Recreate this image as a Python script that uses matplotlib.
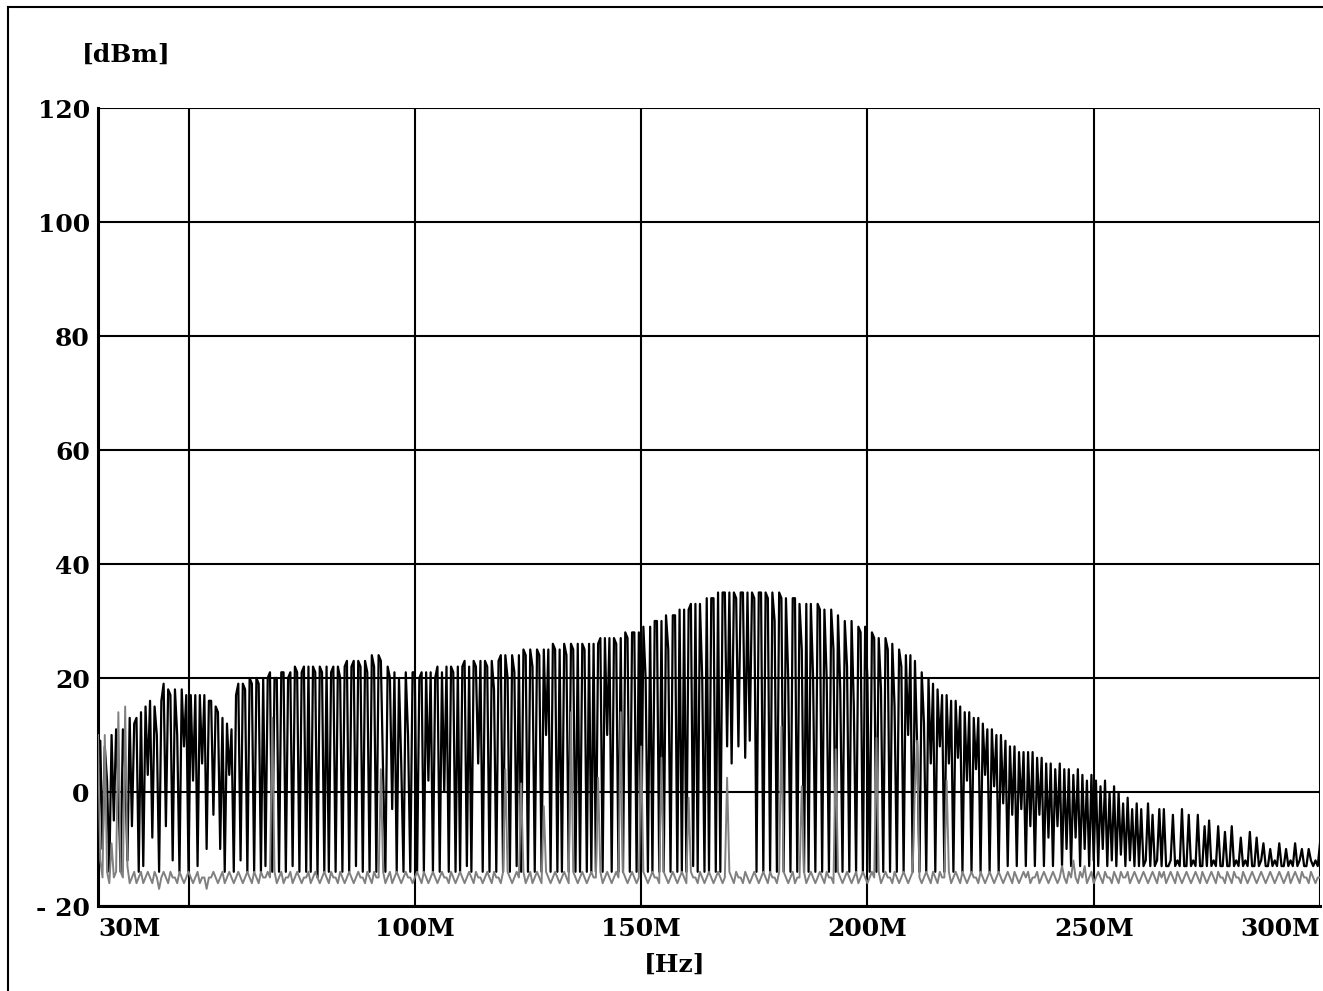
import numpy as np
import matplotlib
matplotlib.use("Agg")
import matplotlib.pyplot as plt
from matplotlib.lines import Line2D

# sweep 30M - 300M, 0.5 MHz per point
freq_start = 30
freq_stop = 300

# black trace [dBm], one row = 5 MHz
black_dbm = [
    -15, 9, -10, 8, 2, -14, 10, -5, 11, 0,
    -14, 11, 4, -12, 13, -6, 12, 13, -14, 14,
    -13, 15, 3, 16, -8, 15, 10, -14, 16, 19,
    -6, 18, 17, -12, 18, 10, -14, 18, 8, 17,
    -14, 17, 2, 17, -13, 17, 5, 17, -10, 16,
    16, -4, 15, 14, -10, 13, -14, 12, 3, 11,
    -14, 17, 19, -12, 19, 18, -14, 20, 19, -14,
    20, 19, -14, 20, -13, 20, 21, -14, 20, 20,
    -14, 21, 21, -14, 20, 21, -13, 22, 21, -14,
    21, 22, -14, 22, -14, 22, 21, -15, 22, 21,
    -14, 22, -14, 21, 22, -14, 22, 20, -14, 22,
    23, -14, 22, 23, -13, 23, 22, -14, 23, 21,
    -14, 24, 22, -14, 24, 23, 3, -14, 22, 20,
    -3, 21, -14, 20, 5, -14, 21, 10, -14, 21,
    21, -14, 20, 21, -14, 21, 2, 21, -14, 20,
    22, -14, 21, 0, 22, -14, 22, 21, -14, 22,
    -14, 22, 23, -13, 22, -14, 23, 22, 5, 23,
    -14, 23, 22, -14, 23, 18, -14, 23, 24, -14,
    24, 20, -14, 24, 21, -13, 24, -14, 25, 24,
    -14, 25, 22, -14, 25, 24, -14, 25, 10, 25,
    -14, 26, 25, -14, 25, -14, 26, 24, -14, 26,
    25, -14, 26, -14, 26, 25, -14, 26, -14, 26,
    -14, 26, 27, -14, 27, 10, 27, -14, 27, 26,
    -14, 27, -14, 28, 27, -14, 28, 28, -14, 28,
    -14, 29, 20, -14, 29, -14, 30, 30, -14, 30,
    -14, 31, 25, -14, 31, 31, -14, 32, -14, 32,
    -14, 32, 33, -13, 33, -14, 33, 20, -14, 34,
    -14, 34, 34, -14, 35, -14, 35, 35, 8, 35,
    5, 35, 34, 8, 35, 35, 6, 35, 9, 35,
    34, -14, 35, 35, -14, 35, 34, -14, 35, 30,
    -14, 35, 34, -14, 34, 20, -14, 34, 34, -14,
    33, 25, -14, 33, -14, 33, 20, -14, 33, 32,
    -14, 32, 20, -14, 32, 25, -14, 31, 18, -14,
    30, 22, -14, 30, 15, -14, 29, 28, -14, 29,
    20, -14, 28, 27, -14, 27, 18, -14, 27, 25,
    -14, 26, 15, -14, 25, 22, -14, 24, 10, 24,
    -14, 23, 8, -14, 21, 12, -14, 20, 5, 19,
    -14, 18, 8, 17, -14, 17, 5, 16, -14, 16,
    6, 15, -14, 14, 2, 14, -14, 13, 4, 13,
    -14, 12, 3, 11, -14, 11, 1, 10, -14, 10,
    -2, 9, -13, 8, -4, 8, -13, 7, -3, 7,
    -13, 7, -6, 7, -13, 6, -4, 6, -13, 5,
    -8, 5, -13, 4, -6, 5, -13, 4, -10, 4,
    -13, 3, -8, 4, -13, 3, -10, 2, -13, 3,
    -12, 2, -13, 1, -10, 2, -13, 0, -12, 1,
    -13, 0, -11, -2, -13, -1, -12, -3, -13, -2,
    -13, -3, -13, -12, -2, -13, -4, -13, -12, -3,
    -13, -3, -13, -13, -12, -4, -13, -12, -13, -3,
    -13, -13, -4, -13, -12, -13, -4, -13, -13, -6,
    -13, -5, -13, -12, -13, -6, -13, -13, -7, -13,
    -13, -6, -13, -12, -13, -8, -13, -12, -13, -7,
    -13, -13, -8, -13, -12, -9, -13, -13, -10, -13,
    -12, -13, -9, -13, -13, -10, -13, -12, -13, -9,
    -13, -12, -10, -13, -13, -10, -12, -13, -12, -13,
    -9,
]

# gray trace [dBm] (background), same sweep points
gray_dbm = [
    10, -12, -15, 10, -14, -16, -9, -15, -14, 14,
    -14, -15, 15, -13, -16, -15, -14, -16, -15, -14,
    -16, -15, -14, -15, -16, -14, -15, -17, -15, -14,
    -15, -16, -14, -15, -15, -16, -14, -15, -16, -15,
    -14, -15, -16, -15, -14, -16, -15, -15, -17, -15,
    -15, -14, -15, -16, -15, -14, -16, -15, -14, -15,
    -16, -15, -14, -15, -16, -15, -14, -15, -16, -14,
    -15, -16, -14, -15, -15, -14, -15, 13, -14, -16,
    -15, -14, -16, -15, -15, -14, -16, -15, -14, -15,
    -16, -15, -15, -14, -16, -15, -14, -15, -16, -15,
    -14, -15, -16, -14, -15, -15, -16, -14, -15, -16,
    -15, -14, -15, -16, -15, -14, -15, -15, -16, -14,
    -15, -16, -14, -15, -15, 4, -14, -16, -15, -14,
    -16, -15, -14, -15, -16, -15, -14, -15, -15, -16,
    -15, -14, -15, -16, -14, -15, -16, -15, -14, -15,
    -16, -15, -14, -15, -15, -16, -14, -15, -16, -15,
    -14, -15, -16, -15, -14, -15, -16, -14, -15, -15,
    -16, -15, -14, -15, -16, -14, -15, -15, -16, -14,
    4, -14, -15, -16, -15, -14, -15, 1.5, -14, -16,
    -15, -14, -16, -15, -14, -15, -16, -2.5, -14, -15,
    -16, -15, -14, -15, -16, -15, -14, -15, -16, 14,
    -14, -15, -16, -15, -14, -15, -16, -15, -14, -15,
    -15, 2.5, -14, -16, -15, -14, -15, -16, -15, -14,
    -15, 14, -14, -15, -16, -15, -14, -15, -16, -15,
    8, -14, -15, -16, -15, -14, -15, -15, -16, 6,
    -14, -15, -16, -15, -14, -15, -16, -15, -14, -15,
    -16, -1, -14, -15, -15, -16, -14, -15, -16, -15,
    -14, -15, -16, -15, -14, -15, -16, -15, 2.5, -14,
    -15, -16, -14, -15, -15, -16, -14, -15, -16, -15,
    -14, -15, -16, -15, -14, -15, -16, -14, -15, -15,
    -16, -14, 11.5, -14, -15, -16, -15, -14, -16, -15,
    -15, 1, -14, -16, -15, -14, -15, -16, -15, -14,
    -15, -16, -14, -15, -15, -16, 7.5, -14, -15, -16,
    -15, -14, -15, -16, -15, -14, -16, -15, -14, -15,
    -16, -15, -14, -15, 9.5, -14, -16, -15, -14, -15,
    -15, -16, -14, -15, -16, -15, -14, -15, -16, -15,
    -14, 1, 9, -15, -16, -15, -14, -15, -16, -14,
    -15, -16, -14, -15, -15, 2, -14, -16, -15, -14,
    -15, -16, -14, -15, -16, -15, -14, -15, -15, -16,
    -14, -15, -16, -15, -14, -15, -16, -15, -14, -15,
    -16, -15, -14, -15, -16, -14, -15, -16, -15, -14,
    -15, -14, -16, -15, -15, -14, -16, -15, -14, -15,
    -16, -15, -14, -15, -16, -15, -13, -15, -16, -14,
    -15, -12, -15, -16, -14, -15, -13, -16, -15, -14,
    -16, -15, -14, -15, -16, -14, -15, -15, -16, -14,
    -15, -16, -14, -15, -15, -14, -16, -15, -14, -15,
    -16, -15, -14, -15, -16, -15, -14, -15, -16, -14,
    -15, -14, -16, -15, -14, -15, -16, -14, -15, -16,
    -15, -14, -15, -16, -15, -14, -15, -16, -14, -15,
    -16, -15, -14, -15, -16, -14, -15, -15, -16, -14,
    -15, -16, -14, -15, -15, -16, -14, -15, -16, -15,
    -14, -15, -16, -15, -14, -15, -16, -15, -14, -15,
    -16, -15, -14, -15, -16, -15, -14, -16, -15, -14,
    -15, -16, -14, -15, -15, -16, -14, -15, -16, -15,
    -15,
]

x_ticks = [30, 50, 100, 150, 200, 250, 300]
x_labels = ["30M", "", "100M", "150M", "200M", "250M", "300M"]
y_ticks = [-20, 0, 20, 40, 60, 80, 100, 120]
y_labels = ["- 20", "0", "20", "40", "60", "80", "100", "120"]

font = dict(family="DejaVu Serif", weight="bold", size=18)

freq = np.linspace(freq_start, freq_stop, len(black_dbm))

fig = plt.figure(figsize=(13.23, 9.91), dpi=100)
ax = fig.add_axes([98 / 1323, 1 - 906 / 991, (1320 - 98) / 1323, (906 - 108) / 991])

ax.plot(freq, black_dbm, color="black", lw=1.6, zorder=2)
ax.plot(freq, gray_dbm, color="#808080", lw=1.4, zorder=3)

ax.set_xlim(freq_start, freq_stop)
ax.set_ylim(-20, 120)
ax.set_xticks(x_ticks)
ax.set_xticklabels(x_labels, **font)
ax.set_yticks(y_ticks)
ax.set_yticklabels(y_labels, **font)
xlbls = ax.xaxis.get_ticklabels()
xlbls[0].set_horizontalalignment("left")
xlbls[-1].set_horizontalalignment("right")
ax.tick_params(length=0, pad=8)
ax.tick_params(axis="y", pad=6)
ax.grid(True, color="black", lw=1.5, zorder=1)
for side in ["left", "bottom"]:
    ax.spines[side].set_linewidth(2.2)
for side in ["top", "right"]:
    ax.spines[side].set_visible(False)

fig.text(126 / 1323, 1 - 55 / 991, "[dBm]", ha="center", va="center", **font)
fig.text(675 / 1323, 1 - 965 / 991, "[Hz]", ha="center", va="center", **font)

# outer frame (cropped at right and bottom)
fig.add_artist(Line2D([7.5 / 1323, 7.5 / 1323], [0, 1 - 7 / 991], color="black", lw=1.5))
fig.add_artist(Line2D([7.5 / 1323, 1], [1 - 7 / 991, 1 - 7 / 991], color="black", lw=1.5))

fig.savefig("out.png", dpi=100)
plt.close(fig)
